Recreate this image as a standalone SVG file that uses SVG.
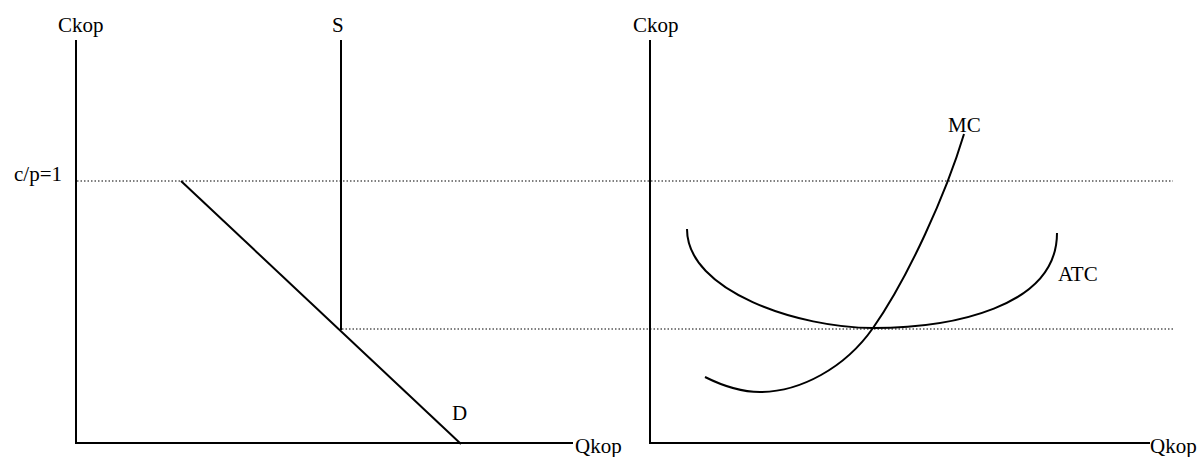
<svg xmlns="http://www.w3.org/2000/svg" width="1200" height="457" viewBox="0 0 1200 457">
<style>
text { font-family: "Liberation Serif", "Times New Roman", serif; font-size: 21px; fill: #000; }
.ax { stroke: #000; stroke-width: 2; fill: none; }
.cv { stroke: #000; stroke-width: 2; fill: none; }
.dot { stroke: #000; stroke-width: 1.2; stroke-dasharray: 1.5 2; fill: none; }
</style>
<rect width="1200" height="457" fill="#fff"/>
<g id="left-chart">
  <g id="left-axes">
    <line class="ax" x1="76" y1="40" x2="76" y2="443"/>
    <line class="ax" x1="75" y1="443" x2="573" y2="443"/>
    <text x="58" y="32">Ckop</text>
    <text x="575" y="453">Qkop</text>
  </g>
  <g id="price-line">
    <line class="dot" x1="77" y1="181" x2="1173" y2="181"/>
    <text x="14" y="181">c/p=1</text>
  </g>
  <g id="S">
    <line class="ax" x1="341" y1="40" x2="341" y2="330"/>
    <text x="332" y="32">S</text>
  </g>
  <g id="D">
    <line class="cv" x1="181" y1="181" x2="461" y2="444"/>
    <text x="452" y="420">D</text>
  </g>
  <g id="min-line">
    <line class="dot" x1="342" y1="329" x2="1173" y2="329"/>
  </g>
</g>
<g id="right-chart">
  <g id="right-axes">
    <line class="ax" x1="650" y1="40" x2="650" y2="443"/>
    <line class="ax" x1="649" y1="443" x2="1150" y2="443"/>
    <text x="633" y="32">Ckop</text>
    <text x="1150" y="453">Qkop</text>
  </g>
  <g id="ATC">
    <path class="cv" d="M687,229 C687,292 800,328 873,328 C950,328 1057,308 1057,233"/>
    <text x="1058" y="281">ATC</text>
  </g>
  <g id="MC">
    <path class="cv" d="M705,377 C725,387 742,392 760,392 C800,392 845,368 873,328 C908,278 946,194 964,134"/>
    <text x="948" y="132">MC</text>
  </g>
</g>
</svg>
